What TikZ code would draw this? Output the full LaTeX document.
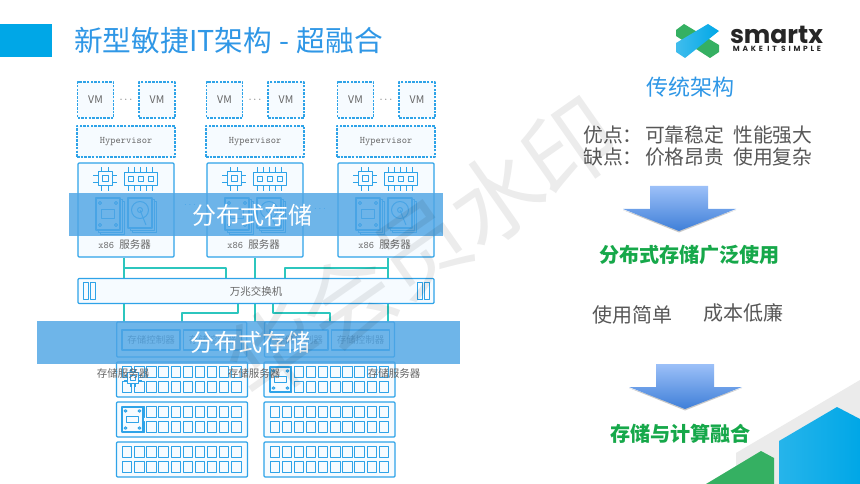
\documentclass[tikz,border=0pt]{standalone}
\usepackage{fontspec}
\setmainfont{Noto Sans CJK SC}
\newfontfamily\logofont{Poppins}
\newcommand{\fsz}[1]{\fontsize{#1}{#1}\selectfont}
\definecolor{lineblue}{HTML}{2EA3E8}
\definecolor{bandblue}{HTML}{4FA5E5}
\definecolor{paleblue}{HTML}{F6FBFF}
\definecolor{teal1}{HTML}{2CC6BE}
\definecolor{titleblue}{HTML}{2F97E6}
\definecolor{tabblue}{HTML}{00A7E7}
\definecolor{green1}{HTML}{16A84A}
\definecolor{logogreen}{HTML}{35B062}
\definecolor{text1}{HTML}{666666}
\definecolor{arrowtop}{HTML}{9CC0F8}
\definecolor{arrowbot}{HTML}{3F7FD8}
\tikzset{
  vmbox/.style={draw=lineblue,fill=paleblue,line width=1.2pt,dash pattern=on 2.5pt off 1.2pt,inner sep=0pt,minimum width=36pt,minimum height=36pt,text=text1,font=\fsz{10.5}},
  hvbox/.style={vmbox,minimum width=98pt,minimum height=31pt,font=\ttfamily\fsz{10}},
  srvbox/.style={draw=lineblue,fill=paleblue,line width=1.2pt,rounded corners=1pt,inner sep=0pt,text=text1},
  ctlbox/.style={draw=lineblue,line width=1.4pt,inner sep=0pt,minimum width=58pt,minimum height=20pt,text=text1,font=\fsz{9.5}},
  link/.style={draw=teal1,line width=1.2pt},
  icon/.style={draw=lineblue,line width=1pt},
  band/.style={fill=bandblue,opacity=.82,inner sep=0pt},
  bandtxt/.style={text=white,inner sep=0pt,font=\fsz{24}},
  graytxt/.style={text=text1,inner sep=0pt,font=\fsz{10.5}},
  bigtxt/.style={text=text1!85!black,inner sep=0pt,font=\fsz{19.8}},
  greentxt/.style={text=green1,inner sep=0pt,font=\bfseries\fsz{20.1}},
  wmark/.style={text=black,text opacity=.075,inner sep=0pt,rotate=35,font=\fsz{92}}
}
% icons, drawn round the origin
\newcommand{\chipicon}{
  \draw[icon,fill=paleblue] (-7,-7) rectangle (7,7);
  \draw[icon] (-3,-3) rectangle (3,3);
  \foreach \p in {-3.5,3.5}{
    \draw[icon] (\p,-7)--(\p,-12) (\p,7)--(\p,12) (-7,\p)--(-12,\p) (7,\p)--(12,\p);}
}
\newcommand{\ramicon}{
  \foreach \p in {-12,-6,0,6,12}{\draw[icon] (\p,-12)--(\p,12);}
  \draw[icon,fill=paleblue] (-16.5,-6.5) rectangle (16.5,6.5);
  \foreach \p in {-10,0,10}{\draw[icon] (\p-2.5,-2.5) rectangle (\p+2.5,2.5);}
}
\newcommand{\ssdfront}{
  \draw[icon,fill=paleblue,line width=1.5pt] (-12,-16) rectangle (12,16);
  \draw[icon] (-7,-15)--(7,-15);
  \foreach \a/\b in {-8/-11,8/-11,-8/11,8/11}{\draw[icon] (\a,\b) circle (1.6);}
  \draw[icon] (-6.5,-4) rectangle (6.5,4);
}
\newcommand{\ssdicon}{
  \foreach \o in {4,2}{\draw[icon,fill=paleblue] (-12+\o,-16+\o) rectangle (12+\o,16+\o);}
  \ssdfront
}
\newcommand{\hddicon}{
  \foreach \o in {4,2}{\draw[icon,fill=paleblue] (-12+\o,-15+\o) rectangle (12+\o,15+\o);}
  \draw[icon,fill=paleblue,line width=1.5pt] (-12,-15) rectangle (12,15);
  \draw[icon] (0,-3) circle (8.5) (0,-3) circle (2.5);
  \draw[icon] (0,-3)--(6,12);
}
\begin{document}
\begin{tikzpicture}[x=1pt,y=-1pt,line join=round]
\fill[white] (0,0) rectangle (860,484);
\useasboundingbox (0,0) rectangle (860,484);
% title
\fill[tabblue] (0,24) rectangle (52,57);
\node[text=titleblue,inner sep=0pt,anchor=west,font=\fsz{28.7}] (title) at (74,41) {新型敏捷IT架构\hspace{1pt} - \hspace{1pt}超融合};
% corner
\fill[black!8] (736,484)--(736,453)--(860,380)--(860,484)--cycle;
\fill[logogreen] (706,484)--(761,451)--(774,458)--(774,484)--cycle;
\shade[left color=tabblue!85!white,right color=tabblue] (779,484)--(779,441)--(837,407)--(860,419)--(860,484)--cycle;
% logo
\fill[logogreen] (684,24)--(676,30)--(676,36)--(710,58)--(719,52)--(719,45)--cycle;
\shade[left color=tabblue!75!white,right color=tabblue] (708,24)--(719,31)--(685,58)--(676,52)--(676,43)--cycle;
\node[text=black!85,inner sep=0pt,font=\logofont\bfseries\fsz{25}] (logo) at (776.5,35) {smartx};
\node[text=black!85,inner sep=0pt,font=\logofont\bfseries\fsz{7.5}] (slogan) at (777,49) {\addfontfeature{LetterSpace=37}MAKE IT SIMPLE};
% compute servers
\foreach \n/\cx in {1/126,2/255,3/386}{
  \node[vmbox] (vma\n) at (\cx-30.5,100) {VM};
  \node[vmbox] (vmb\n) at (\cx+31,100) {VM};
  \node[graytxt] (dots\n) at (\cx,100) {$\cdots$};
  \node[hvbox] (hv\n) at (\cx,141.5) {Hypervisor};
  \node[srvbox,minimum width=96pt,minimum height=94pt] (srv\n) at (\cx,210) {};
  \node[graytxt] (srvtxt\n) at (\cx-1.5,244.5) {{\ttfamily\fsz{10}x86 }服务器};
  \begin{scope}[shift={(\cx-21,179)}]\chipicon\end{scope}
  \begin{scope}[shift={(\cx+14.5,179)}]\ramicon\end{scope}
  \begin{scope}[shift={(\cx-18,214)}]\ssdicon\end{scope}
  \begin{scope}[shift={(\cx+14,213)}]\hddicon\end{scope}
}
\node[text=lineblue,inner sep=0pt] (gapa) at (190,205) {$\cdots$};
\node[text=lineblue,inner sep=0pt] (gapb) at (320,209) {$\cdots$};
% switch
\node[srvbox,minimum width=356pt,minimum height=25pt,font=\fsz{10.5}] (sw) at (256,291) {万兆交换机};
\foreach \x in {83,90,417,424}{\draw[icon] (\x,282) rectangle (\x+5,299);}
% storage controllers
\node[srvbox,line width=1.4pt,fill=none,minimum width=130pt,minimum height=35pt] (ctla) at (181.75,339.5) {};
\node[srvbox,line width=1.4pt,fill=none,minimum width=130pt,minimum height=35pt] (ctlb) at (329.5,339.5) {};
\foreach \n/\cx in {1/151,2/212.5,3/299,4/360.5}{\node[ctlbox] (ctl\n) at (\cx,340) {存储控制器};}
% links
\coordinate (upa) at (124,268);\coordinate (swa) at (226,278);
\coordinate (upb) at (388,268);\coordinate (swb) at (285,278);
\coordinate (dna) at (238,304);\coordinate (dnb) at (273,304);
\coordinate (swc) at (124,304);\coordinate (swd) at (388,304);\coordinate (swe) at (255,304);
\coordinate (ctlc) at (124,322);\coordinate (ctld) at (388,322);\coordinate (ctle) at (255,322);
\coordinate (toa) at (182,322);\coordinate (tob) at (330,322);
\draw[link] (srv1.south-|upa)--(sw.north-|upa);
\draw[link] (srv2.south)--(sw.north-|srv2);
\draw[link] (srv3.south-|upb)--(sw.north-|upb);
\draw[link] (upa)-|(swa);
\draw[link] (upb)-|(swb);
\draw[link] (swc)--(ctlc);
\draw[link] (swd)--(ctld);
\draw[link] (swe)--(ctle);
\draw[link] (dna)--++(0,9)-|(toa);
\draw[link] (dnb)--++(0,9)-|(tob);
% storage servers
\foreach \n/\lx/\ty in {1/116.5/362,2/116.5/402,3/116.5/442,4/264/362,5/264/402,6/264/442}{
  \node[srvbox,minimum width=131pt,minimum height=35pt] (st\n) at (\lx+65.5,\ty+17.5) {};
  \foreach \i in {0,...,9}{\foreach \j in {0,1}{
    \draw[icon] (\lx+6+12.13*\i,\ty+4.8+14.8*\j) rectangle ++(9.4,10.6);}}
}
\begin{scope}[shift={(133,378)},scale=.75]\chipicon\end{scope}
\begin{scope}[shift={(132.5,419.5)},xscale=.87,yscale=.78]\ssdfront\end{scope}
\begin{scope}[shift={(280.5,379.5)},xscale=.87,yscale=.78]\ssdfront\end{scope}
\foreach \n/\cx in {1/123,2/254,3/394}{\node[graytxt] (sttxt\n) at (\cx,374) {存储服务器};}
% bands
\node[band,minimum width=374pt,minimum height=43pt] (banda) at (256,214.5) {};
\node[band,minimum width=423pt,minimum height=43pt] (bandb) at (248.5,342.5) {};
\node[bandtxt] (bandtxta) at (252,215) {分布式存储};
\node[bandtxt] (bandtxtb) at (250,342) {分布式存储};
% right column
\node[text=titleblue,inner sep=0pt,font=\fsz{22}] (trad) at (690,87) {传统架构};
\node[bigtxt,anchor=west] (pro) at (583,135) {优点：\hspace{2.6pt}可靠稳定\hspace{9pt}性能强大};
\node[bigtxt,anchor=west] (con) at (583,157) {缺点：\hspace{2.6pt}价格昂贵\hspace{9pt}使用复杂};
\foreach \ax/\ay in {679/186,685/364}{
  \fill[black!35,opacity=.6] (\ax-56,\ay+24)--(\ax,\ay+46.5)--(\ax+57,\ay+24)--(\ax,\ay+42)--cycle;
  \shade[top color=arrowtop,bottom color=arrowbot]
    (\ax-29,\ay)--(\ax+29,\ay)--(\ax+29,\ay+23)--(\ax+57,\ay+23)--(\ax,\ay+45)--(\ax-56,\ay+23)--(\ax-29,\ay+23)--cycle;
}
\node[greentxt] (dist) at (689.5,255) {分布式存储广泛使用};
\node[bigtxt,font=\fsz{20}] (easy) at (632,315) {使用简单};
\node[bigtxt,font=\fsz{20}] (cheap) at (743,313) {成本低廉};
\node[greentxt] (fuse) at (680.5,434) {存储与计算融合};
% watermark
\foreach \n/\x/\y/\t in {1/274/351/华,2/348/300/会,3/422/249/员,4/496/198/水,5/570/147/印}{\node[wmark] (wmark\n) at (\x,\y) {\t};}
\end{tikzpicture}
\end{document}
